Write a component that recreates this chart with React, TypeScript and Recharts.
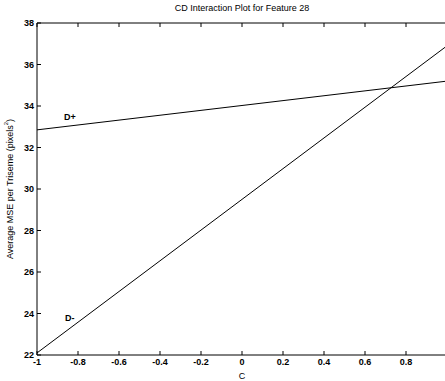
import { LineChart, Line, XAxis, YAxis, ReferenceDot } from 'recharts';

const cValues = [-1, 1];
const dPlus = [32.85, 35.2];
const dMinus = [22.1, 36.9];
const xTicks = [-1, -0.8, -0.6, -0.4, -0.2, 0, 0.2, 0.4, 0.6, 0.8, 1];
const yTicks = [22, 24, 26, 28, 30, 32, 34, 36, 38];
const seriesLabels = [
  { name: 'D+', c: -0.84, v: 33.5 },
  { name: 'D-', c: -0.84, v: 23.8 },
];

const chartData = cValues.map((c, i) => ({ c, dPlus: dPlus[i], dMinus: dMinus[i] }));

const FONT = '"Liberation Sans", Arial, sans-serif';
const tickStyle = { fontSize: 9, fontFamily: FONT, fill: '#000', fontWeight: 700 };

function YLabel(props: any) {
  const vb = props.viewBox || {};
  const cx = 10;
  const cy = (vb.y ?? 23) + (vb.height ?? 332) / 2;
  return (
    <text
      x={cx}
      y={cy}
      transform={`rotate(-90 ${cx} ${cy})`}
      textAnchor="middle"
      dominantBaseline="central"
      fontSize={9}
      fontFamily={FONT}
      fill="#000"
    >
      Average MSE per Triseme (pixels
      <tspan dy={-4} fontSize={6}>2</tspan>
      <tspan dy={4}>)</tspan>
    </text>
  );
}

// the C = 1 label falls past the right edge of the window in the reference
const fmtX = (v: number) => (v >= 1 ? '' : String(Number(v.toFixed(1))));

export default function App() {
  return (
    <div style={{ position: 'absolute', left: 0, top: 0, width: 445, height: 381, overflow: 'hidden', background: '#fff' }}>
      <div
        style={{
          position: 'absolute',
          left: 37,
          width: 410,
          top: 3,
          textAlign: 'center',
          fontFamily: FONT,
          fontSize: 9,
          color: '#000',
        }}
      >
        CD Interaction Plot for Feature 28
      </div>
      <LineChart width={460} height={381} data={chartData} margin={{ top: 22, right: 12, bottom: 0, left: 0 }}>
        <XAxis
          xAxisId="bottom"
          dataKey="c"
          type="number"
          domain={[-1, 1]}
          ticks={xTicks}
          height={26}
          tickSize={-4}
          tickMargin={8}
          interval={0}
          stroke="#000"
          tick={tickStyle}
          tickFormatter={fmtX}
          label={{ value: 'C', position: 'insideBottom', offset: 2, fontSize: 9, fontFamily: FONT, fill: '#000' }}
        />
        <XAxis
          xAxisId="top"
          orientation="top"
          dataKey="c"
          type="number"
          domain={[-1, 1]}
          ticks={xTicks}
          height={1}
          tickSize={-4}
          interval={0}
          stroke="#000"
          tickFormatter={() => ''}
        />
        <YAxis
          yAxisId="left"
          type="number"
          domain={[22, 38]}
          ticks={yTicks}
          width={37}
          tickSize={-4}
          tickMargin={7}
          interval={0}
          stroke="#000"
          tick={tickStyle}
          label={<YLabel />}
        />
        <YAxis
          yAxisId="right"
          orientation="right"
          type="number"
          domain={[22, 38]}
          ticks={yTicks}
          width={1}
          tickSize={-4}
          interval={0}
          stroke="#000"
          tickFormatter={() => ''}
        />
        <Line xAxisId="bottom" yAxisId="left" dataKey="dPlus" type="linear" stroke="#000" strokeWidth={1} dot={false} isAnimationActive={false} />
        <Line xAxisId="bottom" yAxisId="left" dataKey="dMinus" type="linear" stroke="#000" strokeWidth={1} dot={false} isAnimationActive={false} />
        {seriesLabels.map((s) => (
          <ReferenceDot
            key={s.name}
            xAxisId="bottom"
            yAxisId="left"
            x={s.c}
            y={s.v}
            r={0}
            stroke="none"
            fill="none"
            label={{ value: s.name, position: 'center', fontSize: 9, fontFamily: FONT, fill: '#000', fontWeight: 700 }}
          />
        ))}
      </LineChart>
    </div>
  );
}
